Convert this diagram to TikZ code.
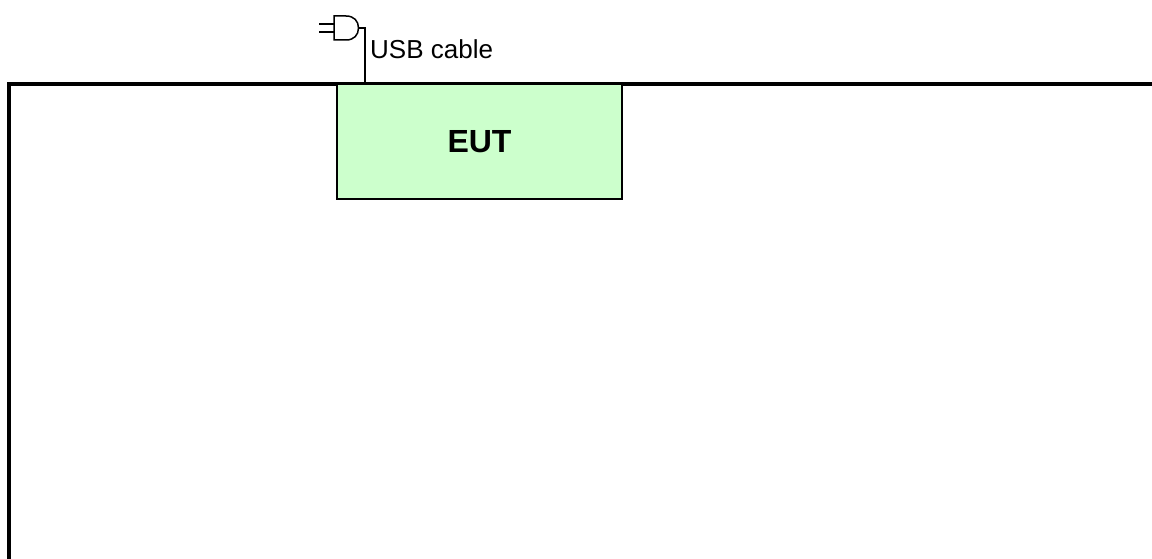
\documentclass[tikz,border=0pt]{standalone}
\usepackage{fontspec}
\setmainfont{Liberation Sans}
\usetikzlibrary{calc,positioning}
\definecolor{eutgreen}{HTML}{CCFFCC}
\tikzset{
    eutbox/.style={draw, line width=1.5pt, fill=eutgreen, minimum width=285pt, minimum height=115pt, inner sep=0pt, font=\bfseries\fontsize{32}{36}\selectfont},
    plugline/.style={line width=1.5pt},
}

\begin{document}
\begin{tikzpicture}[x=1pt,y=-1pt]
    \useasboundingbox (0,0) rectangle (1152,559);

    % outer frame
    \draw[line width=4pt] (9,559) -- (9,84) -- (1152,84);

    % device
    \node[eutbox] (eut) at (479.5,141.5) {EUT};

    % cable and plug
    \coordinate (cablefoot) at (365,84);
    \coordinate (plug) at (358.5,28);
    \draw[plugline] (cablefoot) -- (365,28) -- (plug);
    \draw[plugline] (334,16) -- (346,16) .. controls (354,16) and (358.5,21) .. (358.5,28) .. controls (358.5,35) and (354,40) .. (346,40) -- (334,40) -- cycle;
    \foreach \y in {24,32} {
        \draw[plugline] (319,\y) -- (334,\y);
    }

    \node[right, inner sep=0pt, font=\fontsize{26}{30}\selectfont] (usb) at (370,49) {USB cable};

\end{tikzpicture}
\end{document}
